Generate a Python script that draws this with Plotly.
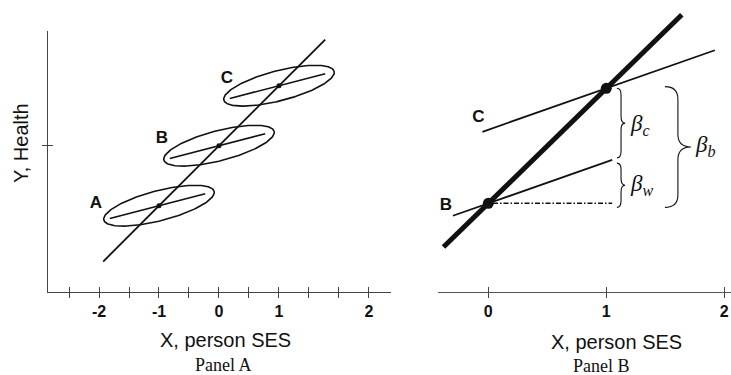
import numpy as np
import plotly.graph_objects as go

# ---------------- data ----------------
# Panel A: three groups (A, B, C) with centres on the between-group line
group_names = ["A", "B", "C"]
group_x = [-1.0, 0.0, 1.0]
group_y = [-1.0, 0.0, 1.0]
between_slope_a = 1.0
between_line_x = [-1.93, 1.77]
within_slope_a = 0.26
within_half_left = 0.82
within_half_right = 0.77
ellipse_semi_major = 0.95
ellipse_semi_minor = 0.25
label_a_x = [-2.05, -0.95, 0.13]
label_a_y = [-0.96, 0.11, 1.12]

# Panel A axis ticks
xa_tickvals = [-2.5, -2, -1.5, -1, -0.5, 0, 0.5, 1, 1.5, 2, 2.5]
xa_ticktext = ["", "-2", "", "-1", "", "0", "", "1", "", "", "2"]
ya_tickvals = [0]

# Panel B
b_points_x = [0.0, 1.0]
b_points_y = [0.0, 1.0]
thick_line_x = [-0.38, 1.64]
between_slope_b = 1.0
within_slope_b = 0.36
line_c_x = [-0.05, 1.92]
line_b_x = [-0.30, 1.05]
dash_x = [0.04, 1.05]
label_b_names = ["B", "C"]
label_b_x = [-0.36, -0.085]
label_b_y = [-0.023, 0.74]
xb_tickvals = [0, 1, 2]
xb_ticktext = ["0", "1", "2"]

INK = "#111111"
AXIS = "#444444"
SANS = "Liberation Sans, Arial, sans-serif"
SERIF = "Liberation Serif, Times New Roman, serif"

fig = go.Figure()

# ---------------- Panel A ----------------
bx = np.array(between_line_x)
fig.add_trace(go.Scatter(x=bx, y=between_slope_a * bx, mode="lines",
                         line=dict(color=INK, width=1.8), xaxis="x", yaxis="y",
                         hoverinfo="skip", showlegend=False))
theta = np.arctan(within_slope_a)
t = np.linspace(0, 2 * np.pi, 200)
for cx, cy in zip(group_x, group_y):
    ex = cx + ellipse_semi_major * np.cos(t) * np.cos(theta) - ellipse_semi_minor * np.sin(t) * np.sin(theta)
    ey = cy + ellipse_semi_major * np.cos(t) * np.sin(theta) + ellipse_semi_minor * np.sin(t) * np.cos(theta)
    fig.add_trace(go.Scatter(x=ex, y=ey, mode="lines", line=dict(color=INK, width=1.6),
                             xaxis="x", yaxis="y", hoverinfo="skip", showlegend=False))
    wx = np.array([cx - within_half_left, cx + within_half_right])
    fig.add_trace(go.Scatter(x=wx, y=cy + within_slope_a * (wx - cx), mode="lines",
                             line=dict(color=INK, width=1.6), xaxis="x", yaxis="y",
                             hoverinfo="skip", showlegend=False))
fig.add_trace(go.Scatter(x=group_x, y=group_y, mode="markers",
                         marker=dict(color=INK, size=5), xaxis="x", yaxis="y",
                         hoverinfo="skip", showlegend=False))
fig.add_trace(go.Scatter(x=label_a_x, y=label_a_y, mode="text", text=group_names,
                         textfont=dict(family=SANS, size=17, color=INK, weight="bold"),
                         xaxis="x", yaxis="y", hoverinfo="skip", showlegend=False))

# ---------------- Panel B ----------------
tx = np.array(thick_line_x)
fig.add_trace(go.Scatter(x=tx, y=between_slope_b * tx, mode="lines",
                         line=dict(color=INK, width=5), xaxis="x2", yaxis="y2",
                         hoverinfo="skip", showlegend=False))
cxl = np.array(line_c_x)
fig.add_trace(go.Scatter(x=cxl, y=b_points_y[1] + within_slope_b * (cxl - b_points_x[1]), mode="lines",
                         line=dict(color=INK, width=1.8), xaxis="x2", yaxis="y2",
                         hoverinfo="skip", showlegend=False))
bxl = np.array(line_b_x)
fig.add_trace(go.Scatter(x=bxl, y=b_points_y[0] + within_slope_b * (bxl - b_points_x[0]), mode="lines",
                         line=dict(color=INK, width=1.8), xaxis="x2", yaxis="y2",
                         hoverinfo="skip", showlegend=False))
fig.add_trace(go.Scatter(x=dash_x, y=[b_points_y[0]] * 2, mode="lines",
                         line=dict(color=INK, width=1.5, dash="5px,2px,1.5px,2px"),
                         xaxis="x2", yaxis="y2", hoverinfo="skip", showlegend=False))
fig.add_trace(go.Scatter(x=b_points_x, y=b_points_y, mode="markers",
                         marker=dict(color=INK, size=11), xaxis="x2", yaxis="y2",
                         hoverinfo="skip", showlegend=False))
fig.add_trace(go.Scatter(x=label_b_x, y=label_b_y, mode="text", text=label_b_names,
                         textfont=dict(family=SANS, size=17, color=INK, weight="bold"),
                         xaxis="x2", yaxis="y2", hoverinfo="skip", showlegend=False))

# dummy traces so the overlay (cross-tick) axes are drawn
fig.add_trace(go.Scatter(x=[None], y=[None], xaxis="x3", yaxis="y3", showlegend=False, hoverinfo="skip"))
fig.add_trace(go.Scatter(x=[None], y=[None], xaxis="x4", yaxis="y2", showlegend=False, hoverinfo="skip"))

# braces
def brace(x0, w, ya, yb, r):
    xm = x0 + w / 2
    xt = x0 + w
    ym = (ya + yb) / 2
    return (f"M {x0},{yb} Q {xm},{yb} {xm},{yb - r} L {xm},{ym + r} "
            f"Q {xm},{ym} {xt},{ym} Q {xm},{ym} {xm},{ym - r} "
            f"L {xm},{ya + r} Q {xm},{ya} {x0},{ya}")

w_top = within_slope_b * b_points_x[1]
small_x0, small_w = 1.09, 0.07
big_x0, big_w = 1.497, 0.22
shapes = [
    dict(type="path", path=brace(small_x0, small_w, w_top + 0.035, b_points_y[1], 0.06),
         xref="x2", yref="y2", line=dict(color=INK, width=1.1)),
    dict(type="path", path=brace(small_x0, small_w, b_points_y[0] - 0.035, w_top - 0.01, 0.06),
         xref="x2", yref="y2", line=dict(color=INK, width=1.1)),
    dict(type="path", path=brace(big_x0, big_w, b_points_y[0] - 0.035, b_points_y[1] + 0.015, 0.11),
         xref="x2", yref="y2", line=dict(color=INK, width=1.1)),
]

beta_font = dict(family=SERIF, size=23, color=INK)
C = dict(xanchor="center", yanchor="middle", showarrow=False)
annotations = [
    dict(x=small_x0 + small_w + 0.02, y=(w_top + b_points_y[1]) / 2, xref="x2", yref="y2",
         text="<i>β<sub>c</sub></i>", showarrow=False, xanchor="left", yanchor="middle", font=beta_font),
    dict(x=small_x0 + small_w + 0.02, y=(b_points_y[0] + w_top) / 2 - 0.02, xref="x2", yref="y2",
         text="<i>β<sub>w</sub></i>", showarrow=False, xanchor="left", yanchor="middle", font=beta_font),
    dict(x=big_x0 + big_w + 0.02, y=(b_points_y[0] + b_points_y[1]) / 2, xref="x2", yref="y2",
         text="<i>β<sub>b</sub></i>", showarrow=False, xanchor="left", yanchor="middle", font=beta_font),
    # axis titles & panel captions
    dict(x=225.7 / 731, y=1 - 340 / 375, xref="paper", yref="paper", text="X, person SES",
         font=dict(family=SANS, size=20, color=INK), **C),
    dict(x=616.7 / 731, y=1 - 341.5 / 375, xref="paper", yref="paper", text="X, person SES",
         font=dict(family=SANS, size=20, color=INK), **C),
    dict(x=223 / 731, y=1 - 365 / 375, xref="paper", yref="paper", text="Panel A",
         font=dict(family=SERIF, size=18, color=INK), **C),
    dict(x=601.7 / 731, y=1 - 365.5 / 375, xref="paper", yref="paper", text="Panel B",
         font=dict(family=SERIF, size=18, color=INK), **C),
    dict(x=21 / 731, y=1 - 143 / 375, xref="paper", yref="paper", text="Y, Health", textangle=-90,
         font=dict(family=SANS, size=20, color=INK), **C),
]

tickfont = dict(family=SANS, size=16, color=INK, weight="bold")
xa_range = [-2.855, 2.867]
ya_range = [-2.438, 1.912]
xb_range = [-0.429, 2.057]
yb_range = [-0.771, 1.768]

fig.update_layout(
    width=731, height=375, margin=dict(l=0, r=0, t=0, b=0),
    paper_bgcolor="white", plot_bgcolor="rgba(0,0,0,0)",
    shapes=shapes, annotations=annotations,
    xaxis=dict(domain=[47.7 / 731, 391 / 731], range=xa_range, anchor="y",
               showline=True, linecolor=AXIS, linewidth=1.3, showgrid=False, zeroline=False,
               ticks="outside", ticklen=5, tickwidth=1.2, tickcolor=AXIS,
               tickmode="array", tickvals=xa_tickvals, ticktext=xa_ticktext, tickfont=tickfont),
    yaxis=dict(domain=[(375 - 292) / 375, (375 - 31) / 375], range=ya_range, anchor="x",
               showline=True, linecolor=AXIS, linewidth=1.3, showgrid=False, zeroline=False,
               ticks="outside", ticklen=4.5, tickwidth=1.2, tickcolor=AXIS,
               tickmode="array", tickvals=ya_tickvals, showticklabels=False),
    xaxis2=dict(domain=[437.7 / 731, 1.0], range=xb_range, anchor="y2",
                showline=True, linecolor="#555555", linewidth=1.3, showgrid=False, zeroline=False,
                ticks="outside", ticklen=5, tickwidth=1.2, tickcolor=AXIS,
                tickmode="array", tickvals=xb_tickvals, ticktext=xb_ticktext, tickfont=tickfont),
    yaxis2=dict(domain=[(375 - 292) / 375, 1.0], range=yb_range, anchor="x2", visible=False),
    xaxis3=dict(overlaying="x", range=xa_range, anchor="y", showline=False, showgrid=False,
                zeroline=False, ticks="inside", ticklen=5, tickwidth=1.2, tickcolor=AXIS,
                tickmode="array", tickvals=xa_tickvals, showticklabels=False),
    yaxis3=dict(overlaying="y", range=ya_range, anchor="x", showline=False, showgrid=False,
                zeroline=False, ticks="inside", ticklen=5.5, tickwidth=1.2, tickcolor=AXIS,
                tickmode="array", tickvals=ya_tickvals, showticklabels=False),
    xaxis4=dict(overlaying="x2", range=xb_range, anchor="y2", showline=False, showgrid=False,
                zeroline=False, ticks="inside", ticklen=5, tickwidth=1.2, tickcolor=AXIS,
                tickmode="array", tickvals=xb_tickvals, showticklabels=False),
)

fig.write_html("out.html", config={"displayModeBar": False},
               post_script="document.body.style.margin='0';")
